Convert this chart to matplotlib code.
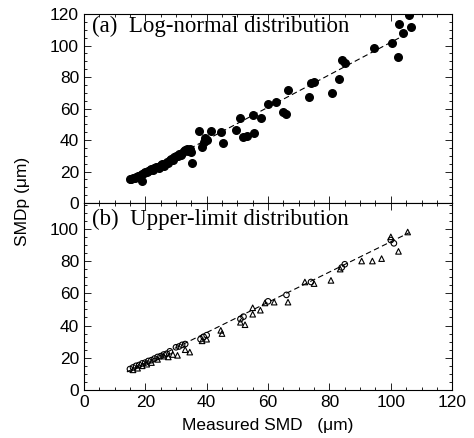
import matplotlib

matplotlib.use("Agg")
import matplotlib.pyplot as plt
from matplotlib.ticker import MultipleLocator

# (a) log-normal distribution: filled circles
a_x = [15, 15.5, 16, 16.5, 17, 17.5, 18, 18.5, 19, 19, 19.5, 20, 20.5, 21, 21.5,
       22, 22.5, 23, 23.5, 24, 24.5, 25, 25.5, 26, 26.5, 27, 27.5, 28, 28.5, 29,
       29.5, 30, 30.5, 31, 31.5, 32, 32.5, 33, 33.5, 34, 34.5, 35, 35.3, 37.5,
       38.5, 39, 39.5, 40, 41.5, 44.6, 45.3, 49.5, 51, 52, 53, 55, 55.4, 57.7,
       60, 62.6, 65, 66, 66.5, 73.5, 74, 75, 81, 83, 84, 85, 94.6, 100.5, 102.5,
       102.6, 104, 106, 106.6]
a_y = [15, 15.5, 16, 15.8, 16.5, 17, 17.2, 18, 13.8, 18.5, 19, 19.5, 20, 20.2, 21,
       21.5, 21, 22, 22.8, 23, 22.5, 24, 24.5, 23.5, 25, 26, 25.5, 27, 28, 27.5,
       29, 30, 30, 31, 30.5, 32, 33, 33.5, 34, 33, 34, 32.5, 25.4, 45.5,
       35.5, 39, 41, 40, 45.5, 44.8, 38, 46.3, 54, 42, 42.5, 56, 44.4, 54,
       63, 64, 58, 56.5, 72, 67.5, 76, 77, 70, 79, 91, 89, 98.4, 101.6, 93,
       113.6, 108, 119.5, 111.7]

# (b) upper-limit distribution: open circles and triangles
b_cx = [15, 16, 17, 18, 19, 20, 21, 22, 23, 24, 25, 26, 27, 28, 30, 31, 32, 33,
        38, 39, 40, 51, 52, 60, 66, 74, 84, 85, 100, 101]
b_cy = [13, 14, 15, 15.5, 16.5, 17, 18, 18.5, 19.5, 20.5, 21, 22, 22.5, 24, 26.5,
        27, 28, 28.5, 31.5, 33, 34, 44, 45.5, 55, 59, 67, 76, 78, 93, 91]
b_tx = [16, 17.5, 19, 20.5, 22, 24, 26, 27.5, 29, 30.5, 33, 34.5, 38.5, 40, 44.6,
        45, 51, 52.5, 55, 55, 57.5, 59, 62, 66.5, 72, 75, 80.5, 83.5, 90.5, 94,
        97, 102.5, 100, 105.5]
b_ty = [12.5, 13.5, 15, 16, 17, 19, 21, 20.5, 22, 21.5, 25, 23.5, 30.5, 31.5, 37,
        35, 42, 40.5, 47, 51, 49.5, 54, 54.5, 54.5, 67, 66, 68, 75, 80, 80,
        81.5, 86, 95, 98]

# fitted lines
a_line_x = [14, 106]
a_line_y = [13.4, 108.2]
b_line_x = [14, 106]
b_line_y = [11.2, 97.6]

plt.rcParams["font.family"] = ["Liberation Sans", "DejaVu Sans"]

fig = plt.figure(figsize=(4.74, 4.38), dpi=100)
ax1 = fig.add_axes([0.177, 0.5365, 0.777, 0.4315])
ax2 = fig.add_axes([0.177, 0.1096, 0.777, 0.4269])

ax1.scatter(a_x, a_y, s=30, color="black", zorder=3)
ax1.plot(a_line_x, a_line_y, color="black", lw=0.8, ls=(0, (5, 3)))
ax1.set_ylim(0, 120)
ax1.set_yticks([0, 20, 40, 60, 80, 100, 120])
ax1.text(2.5, 112, "(a)  Log-normal distribution", family="Liberation Serif",
         fontsize=16.5, va="center")

ax2.scatter(b_cx, b_cy, s=16, facecolors="none", edgecolors="black", lw=0.8, zorder=3)
ax2.scatter(b_tx, b_ty, s=16, marker="^", facecolors="none", edgecolors="black",
            lw=0.8, zorder=3)
ax2.plot(b_line_x, b_line_y, color="black", lw=0.8, ls=(0, (5, 3)))
ax2.set_ylim(0, 116)
ax2.set_yticks([0, 20, 40, 60, 80, 100])
ax2.text(2.5, 106, "(b)  Upper-limit distribution", family="Liberation Serif",
         fontsize=16.5, va="center")

for ax in (ax1, ax2):
    ax.set_xlim(0, 120)
    ax.set_xticks([0, 20, 40, 60, 80, 100, 120])
    ax.xaxis.set_minor_locator(MultipleLocator(5))
    ax.yaxis.set_minor_locator(MultipleLocator(5))
    ax.tick_params(which="both", direction="in", top=True, right=True,
                   labelsize=12.5, width=0.6)
    ax.tick_params(which="major", length=5)
    ax.tick_params(which="minor", length=2.5)
    for sp in ax.spines.values():
        sp.set_linewidth(0.8)

ax1.tick_params(labelbottom=False)
ax2.set_xlabel("Measured SMD   (\u03bcm)", fontsize=12.5, labelpad=6)
fig.text(0.047, 0.54, "SMDp (\u03bcm)", rotation=90, fontsize=12.5,
         ha="center", va="center")

fig.savefig("out.png", dpi=100)
